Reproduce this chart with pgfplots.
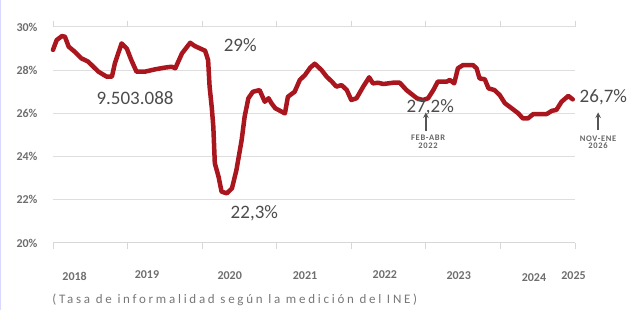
\documentclass[border=0pt]{standalone}
\usepackage{fontspec}
\setmainfont{Carlito}
\newfontfamily\capfont[LetterSpace=21]{Carlito}
\newfontfamily\smallfont[LetterSpace=8]{Carlito}
\usepackage{pgfplots}
\pgfplotsset{compat=1.18}
\definecolor{lred}{RGB}{170,22,30}
\definecolor{tgray}{RGB}{85,85,85}
\definecolor{ggray}{RGB}{222,222,222}
\tikzset{
  yearlab/.style={text=tgray!85, font=\fontsize{12}{12}\selectfont\bfseries},
  annot/.style={text=tgray!90!black, font=\fontsize{19}{19}\selectfont},
  smalllab/.style={text=tgray!90, font=\fontsize{8.5}{8.5}\smallfont\bfseries, align=center},
}
\begin{document}
\begin{tikzpicture}
\begin{axis}[
  scale only axis, width=522pt, height=216pt,
  at={(0pt,0pt)}, anchor=south west,
  xmin=0, xmax=7, ymin=20, ymax=30,
  clip=false,
  axis line style={draw=none},
  ytick={20,22,24,26,28,30},
  yticklabels={20\%,22\%,24\%,26\%,28\%,30\%},
  yticklabel style={font=\fontsize{12}{12}\selectfont\bfseries, text=tgray!85, xshift=-12pt},
  ymajorgrids, grid style={ggray, line width=1pt},
  ytick style={draw=none},
  xtick={0,1,2,3,4,5,6,7},
  xticklabels={},
  xtick align=outside,
  major tick length=6pt,
  xtick style={ggray!120, line width=0.8pt},
  /pgf/number format/assume math mode=true,
]
\draw[ggray!120, line width=1pt] (axis cs:0,20) -- (axis cs:7,20);
\addplot[lred, line width=4.5pt, line join=round, line cap=round] coordinates {
(0.00,28.94) (0.05,29.40) (0.12,29.58) (0.16,29.55) (0.21,29.09) (0.29,28.86)
(0.38,28.55) (0.47,28.40) (0.61,27.93) (0.72,27.70) (0.79,27.70) (0.83,28.32)
(0.92,29.24) (0.99,29.00) (1.05,28.47) (1.12,27.93) (1.23,27.93) (1.37,28.04)
(1.50,28.12) (1.59,28.16) (1.64,28.09) (1.73,28.78) (1.84,29.27) (1.90,29.12)
(2.04,28.90) (2.08,28.47) (2.10,27.24) (2.13,26.24) (2.15,25.38) (2.17,23.69)
(2.22,23.07) (2.26,22.38) (2.33,22.30) (2.40,22.53) (2.46,23.38) (2.53,24.77)
(2.57,25.85) (2.62,26.70) (2.68,27.00) (2.77,27.08) (2.84,26.54) (2.89,26.70)
(2.93,26.47) (2.98,26.24) (3.11,26.00) (3.15,26.77) (3.24,27.00) (3.31,27.55)
(3.38,27.78) (3.45,28.12) (3.51,28.30) (3.60,28.01) (3.67,27.70) (3.74,27.47)
(3.80,27.24) (3.87,27.31) (3.94,27.08) (4.00,26.62) (4.07,26.70) (4.16,27.24)
(4.24,27.67) (4.29,27.39) (4.36,27.42) (4.43,27.36) (4.56,27.42) (4.65,27.42)
(4.74,27.08) (4.88,26.70) (4.96,26.62) (5.03,26.70) (5.10,27.08) (5.16,27.47)
(5.28,27.47) (5.32,27.55) (5.38,27.39) (5.43,28.09) (5.50,28.24) (5.63,28.24)
(5.68,28.09) (5.72,27.62) (5.79,27.58) (5.84,27.16) (5.92,27.08) (5.99,26.85)
(6.06,26.47) (6.15,26.24) (6.24,26.00) (6.30,25.77) (6.37,25.77) (6.44,25.97)
(6.62,25.97) (6.69,26.12) (6.75,26.16) (6.82,26.54) (6.91,26.81) (6.97,26.65)
};
% annotations
\node[annot] at (axis cs:1.10,26.71) {9.503.088};
\node[annot] at (axis cs:2.51,29.17) {29\%};
\node[annot] at (axis cs:2.70,21.39) {22,3\%};
\node[annot] at (axis cs:5.06,26.30) {27,2\%};
\node[annot] at (axis cs:7.38,26.76) {26,7\%};
\draw[->, >=stealth, tgray, line width=1.5pt] (axis cs:5.00,25.18) -- (axis cs:5.00,26.05);
\draw[->, >=stealth, tgray, line width=1.5pt] (axis cs:7.31,25.25) -- (axis cs:7.31,26.05);
\node[smalllab] at (axis cs:5.03,24.68) {FEB-ABR\\[-1pt]2022};
\node[smalllab] at (axis cs:7.31,24.66) {NOV-ENE\\[-1pt]2026};
% year labels
\node[yearlab] at (axis cs:0.29,18.47) {2018};
\node[yearlab] at (axis cs:1.26,18.52) {2019};
\node[yearlab] at (axis cs:2.37,18.47) {2020};
\node[yearlab] at (axis cs:3.38,18.50) {2021};
\node[yearlab] at (axis cs:4.45,18.52) {2022};
\node[yearlab] at (axis cs:5.44,18.47) {2023};
\node[yearlab] at (axis cs:6.45,18.42) {2024};
\node[yearlab] at (axis cs:6.98,18.47) {2025};
\node[anchor=west, text=tgray!80, font=\fontsize{13}{13}\capfont, inner sep=0pt] at (axis cs:-0.01,17.36) {(Tasa de informalidad según la medición del INE)};
\end{axis}
\draw[blue!15, line width=1.5pt] (-52.3pt,-67pt) -- (-52.3pt,243pt);
\pgfresetboundingbox
\path[use as bounding box] (-53pt,-67pt) rectangle (576pt,243pt);
\end{tikzpicture}
\end{document}
